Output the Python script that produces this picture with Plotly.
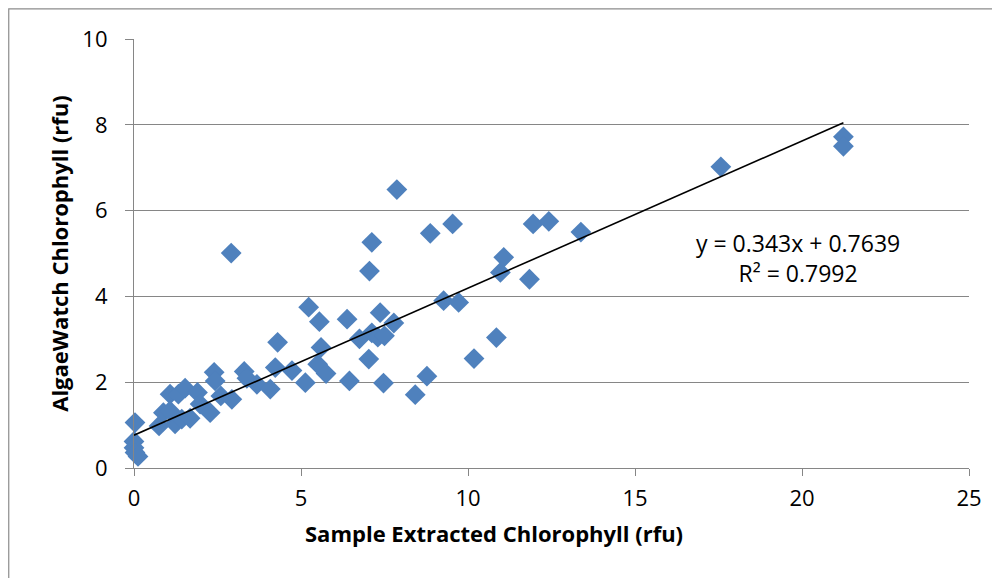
import plotly.graph_objects as go

# Data
extracted = [0.03, 0.0, 0.0, 0.03, 0.12, 0.75, 0.88, 1.08, 1.33, 1.53,
             1.23, 1.43, 1.68, 1.08, 1.90, 1.98, 2.28, 2.40, 2.43, 2.60,
             2.93, 3.30, 3.38, 3.68, 4.08, 4.23, 4.30, 4.73, 5.13, 5.23,
             5.50, 5.55, 5.60, 5.75, 2.91, 6.38, 6.45, 6.75, 7.03, 7.05,
             7.12, 7.12, 7.30, 7.37, 7.50, 7.47, 7.78, 7.87, 8.42, 8.77,
             8.87, 9.27, 9.54, 9.72, 10.18, 10.85, 10.97, 11.07, 11.84, 11.95,
             12.42, 13.38, 17.57, 21.24, 21.24]
algaewatch = [1.06, 0.62, 0.47, 0.36, 0.27, 0.98, 1.29, 1.72, 1.72, 1.86,
              1.03, 1.14, 1.16, 1.33, 1.76, 1.49, 1.29, 2.23, 2.03, 1.68,
              1.60, 2.25, 2.09, 1.95, 1.84, 2.34, 2.93, 2.27, 1.99, 3.75,
              2.42, 3.41, 2.81, 2.20, 5.01, 3.47, 2.03, 3.01, 2.54, 4.59,
              5.26, 3.15, 3.05, 3.62, 3.08, 1.98, 3.38, 6.49, 1.71, 2.14,
              5.47, 3.90, 5.69, 3.86, 2.55, 3.04, 4.56, 4.91, 4.40, 5.69,
              5.75, 5.50, 7.02, 7.72, 7.50]

slope = 0.343
intercept = 0.7639
r_squared = 0.7992

x_ticks = [0, 5, 10, 15, 20, 25]
y_ticks = [0, 2, 4, 6, 8, 10]

x_title = "Sample Extracted Chlorophyll (rfu)"
y_title = "AlgaeWatch Chlorophyll (rfu)"

trend_x = [0, max(extracted)]
trend_y = [slope * v + intercept for v in trend_x]

font_family = "Open Sans, Noto Sans, sans-serif"

fig = go.Figure()
fig.add_trace(go.Scatter(
    x=extracted, y=algaewatch, mode="markers",
    marker=dict(symbol="diamond", size=16, color="#4F81BD",
                line=dict(width=0)),
    showlegend=False, cliponaxis=False,
))
fig.add_trace(go.Scatter(
    x=trend_x, y=trend_y, mode="lines",
    line=dict(color="black", width=1.6),
    showlegend=False,
))

fig.add_annotation(
    x=19.87, y=4.9, xref="x", yref="y",
    text=f"y = {slope}x + {intercept}<br>R² = {r_squared}",
    showarrow=False, align="center",
    font=dict(family=font_family, size=23, color="black"),
)

# x-axis title (offset to the left of the plot centre, as in the reference)
fig.add_annotation(
    x=0.431, y=-0.1515, xref="paper", yref="paper",
    xanchor="center", yanchor="middle",
    text=f"<b>{x_title}</b>", showarrow=False,
    font=dict(family=font_family, size=22, color="black"),
)

# outer chart frame
fig.add_shape(type="rect", xref="paper", yref="paper",
              x0=-0.150, x1=1.08, y0=-0.40, y1=1.070,
              line=dict(color="#8c8c8c", width=1.2), fillcolor="rgba(0,0,0,0)")

fig.update_layout(
    width=992, height=570,
    margin=dict(l=126, r=31, t=31, b=110),
    paper_bgcolor="white", plot_bgcolor="white",
    font=dict(family=font_family, size=22, color="black"),
    xaxis=dict(
        range=[0, 25], tickvals=x_ticks, showgrid=False, zeroline=False,
        showline=True, linecolor="#868686", linewidth=1.2,
        ticks="outside", ticklen=7, tickcolor="#868686",
        tickfont=dict(size=22), ticklabelstandoff=3,
    ),
    yaxis=dict(
        range=[0, 10], tickvals=y_ticks, showgrid=True, gridcolor="#868686",
        gridwidth=1.2, zeroline=False,
        showline=True, linecolor="#868686", linewidth=1.2,
        ticks="outside", ticklen=8, tickcolor="#868686",
        tickfont=dict(size=22), ticklabelstandoff=13,
        title=dict(text=f"<b>{y_title}</b>",
                   font=dict(size=22), standoff=7),
    ),
)

fig.write_html("out.html")
